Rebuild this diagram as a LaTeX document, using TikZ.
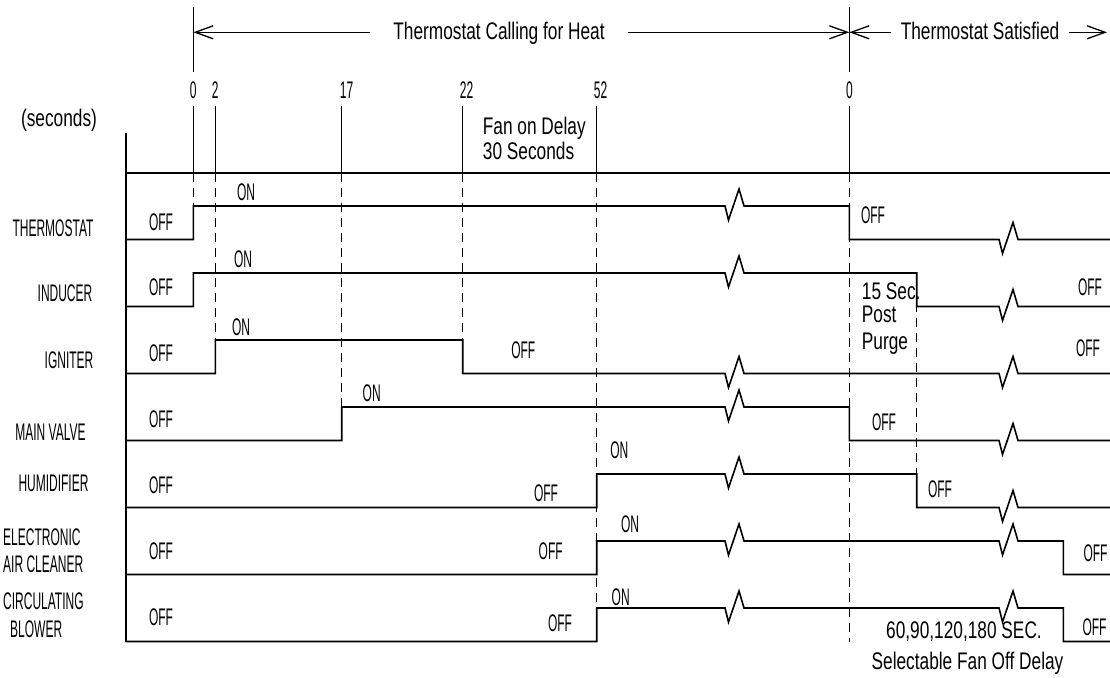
\documentclass[tikz,border=0pt]{standalone}
\usepackage{fontspec}
\newfontfamily\cadup{Liberation Sans}[FakeStretch=0.5]
\newfontfamily\cadlow{Liberation Sans}[FakeStretch=0.72]
\usetikzlibrary{arrows.meta}

\tikzset{
  sig/.style={line width=1.6pt},
  guide/.style={line width=1.5pt, dash pattern=on 9pt off 6pt},
  dimarr/.style={line width=1.3pt, -{Straight Barb[length=18pt,width=13pt]}},
  lbl/.style={font=\cadup\fontsize{24}{28}\selectfont, inner sep=0pt, text height=17.2pt, text depth=0pt},
  txt/.style={font=\cadlow\fontsize{24}{28}\selectfont, inner sep=0pt, text height=17.2pt, text depth=0pt},
  brk/.style={to path={-- ++(3.5,14) -- ++(10.5,-31) -- ++(5,17) -- (\tikztotarget)}},
}

\begin{document}
\begin{tikzpicture}[x=1pt, y=-1pt]
    \path[use as bounding box, fill=white] (0,0) rectangle (1110,677);

    % Phase arrows at the top
    \draw[line width=1.4pt] (193.3,7) -- (193.3,72);
    \draw[line width=1.4pt] (849.3,7) -- (849.3,72);
    \coordinate (heatL) at (193.3,32.3);
    \coordinate (heatR) at (849.3,32.3);
    \coordinate (satR) at (1107,32.3);
    \node[txt] (callheat) at (499,30.5) {Thermostat Calling for Heat};
    \node[txt] (satisfied) at (980,30.5) {Thermostat Satisfied};
    \draw[dimarr] ([xshift=-23pt]callheat.west |- heatL) -- (heatL);
    \draw[dimarr] ([xshift=23pt]callheat.east |- heatL) -- (heatR);
    \draw[dimarr] ([xshift=-10pt]satisfied.west |- heatR) -- (heatR);
    \draw[dimarr] ([xshift=10pt]satisfied.east |- satR) -- (satR);

    % Time marks
    \foreach \t/\lab/\lx [count=\i] in {193.3/0/193.3, 215.3/2/215.3, 341.7/17/346.5,
        462.7/22/466.5, 596.7/52/600.5, 849.3/0/849.5} {
      \draw[line width=1.4pt] (\t,106) -- (\t,172.7);
      \node[lbl] (tk\i) at (\lx,90) {\lab};
    }
    \node[txt] (secs) at (59,118) {(seconds)};
    \node[txt, anchor=west] (fan1) at (482.7,125.8) {Fan on Delay};
    \node[txt, anchor=west] (fan2) at (482.7,150.8) {30 Seconds};

    % Axis and baseline
    \draw[sig] (125.7,133) -- (125.7,641.5);
    \draw[sig] (125.7,172.7) -- (1110,172.7);

    % Dashed guide lines
    \draw[guide] (193.3,172.7) -- (193.3,206);
    \draw[guide] (215.3,172.7) -- (215.3,340);
    \draw[guide] (341.7,172.7) -- (341.7,407);
    \draw[guide] (462.7,172.7) -- (462.7,340);
    \draw[guide] (596.7,172.7) -- (596.7,641.5);
    \draw[guide] (849.3,172.7) -- (849.3,641.5);
    \draw[guide] (916.7,273) -- (916.7,507.5);

    % Thermostat
    \draw[sig] (125.7,239.5) -- (193.3,239.5) -- (193.3,206) -- (725,206) to[brk] (849.3,206)
          -- (849.3,239.5) -- (999,239.5) to[brk] (1110,239.5);
    % Inducer
    \draw[sig] (125.7,306.5) -- (193.3,306.5) -- (193.3,273) -- (725,273) to[brk] (916.7,273)
          -- (916.7,306.5) -- (999,306.5) to[brk] (1110,306.5);
    % Igniter
    \draw[sig] (125.7,373.5) -- (215.3,373.5) -- (215.3,340) -- (462.7,340) -- (462.7,373.5)
          -- (725,373.5) to[brk] (999,373.5) to[brk] (1110,373.5);
    % Main valve
    \draw[sig] (125.7,440.5) -- (341.7,440.5) -- (341.7,407) -- (725,407) to[brk] (849.3,407)
          -- (849.3,440.5) -- (999,440.5) to[brk] (1110,440.5);
    % Humidifier
    \draw[sig] (125.7,507.5) -- (596.7,507.5) -- (596.7,474) -- (725,474) to[brk] (916.7,474)
          -- (916.7,507.5) -- (999,507.5) to[brk] (1110,507.5);
    % Electronic air cleaner
    \draw[sig] (125.7,574.5) -- (596.7,574.5) -- (596.7,541) -- (725,541) to[brk] (999,541)
          to[brk] (1063.3,541) -- (1063.3,574.5) -- (1110,574.5);
    % Circulating blower
    \draw[sig] (125.7,641.5) -- (596.7,641.5) -- (596.7,608) -- (725,608) to[brk] (999,608)
          to[brk] (1063.3,608) -- (1063.3,641.5) -- (1110,641.5);

    % Row names
    \node[lbl] (lthermo) at (53,228) {THERMOSTAT};
    \node[lbl] (linducer) at (65,293) {INDUCER};
    \node[lbl] (ligniter) at (69,360) {IGNITER};
    \node[lbl] (lvalve) at (50.5,432) {MAIN VALVE};
    \node[lbl] (lhumid) at (53.5,483) {HUMIDIFIER};
    \node[lbl, anchor=west] (leac1) at (3,537) {ELECTRONIC};
    \node[lbl, anchor=west] (leac2) at (3,564) {AIR CLEANER};
    \node[lbl, anchor=west] (lblow1) at (3,601) {CIRCULATING};
    \node[lbl, anchor=west] (lblow2) at (10,629) {BLOWER};

    % State labels
    \node[lbl] (s1) at (161,221.7) {OFF};
    \node[lbl] (s2) at (246,191.7) {ON};
    \node[lbl] (s3) at (873,215) {OFF};
    \node[lbl] (s4) at (161,286.7) {OFF};
    \node[lbl] (s5) at (243,259) {ON};
    \node[lbl] (s6) at (1090,286.7) {OFF};
    \node[lbl] (s7) at (161,352.7) {OFF};
    \node[lbl] (s8) at (241,326.7) {ON};
    \node[lbl] (s9) at (523.3,350) {OFF};
    \node[lbl] (s10) at (1088,348.3) {OFF};
    \node[lbl] (s11) at (161,419) {OFF};
    \node[lbl] (s12) at (371.7,393.3) {ON};
    \node[lbl] (s13) at (884,421.7) {OFF};
    \node[lbl] (s14) at (161,485) {OFF};
    \node[lbl] (s15) at (546,492.7) {OFF};
    \node[lbl] (s16) at (619.3,450) {ON};
    \node[lbl] (s17) at (940,489.3) {OFF};
    \node[lbl] (s18) at (161,551) {OFF};
    \node[lbl] (s19) at (550.7,551) {OFF};
    \node[lbl] (s20) at (630,524) {ON};
    \node[lbl] (s21) at (1095.5,553) {OFF};
    \node[lbl] (s22) at (161,616.7) {OFF};
    \node[lbl] (s23) at (560,622.7) {OFF};
    \node[lbl] (s24) at (620.7,596.7) {ON};
    \node[lbl] (s25) at (1094.5,626.7) {OFF};

    % Notes
    \node[txt, anchor=west] (purge1) at (861.7,290.5) {15 Sec.};
    \node[txt, anchor=west] (purge2) at (861.7,314) {Post};
    \node[txt, anchor=west] (purge3) at (861.7,340.5) {Purge};
    \node[txt] (fandelay1) at (964,630) {60,90,120,180 SEC.};
    \node[txt] (fandelay2) at (967.5,661) {Selectable Fan Off Delay};

\end{tikzpicture}
\end{document}
